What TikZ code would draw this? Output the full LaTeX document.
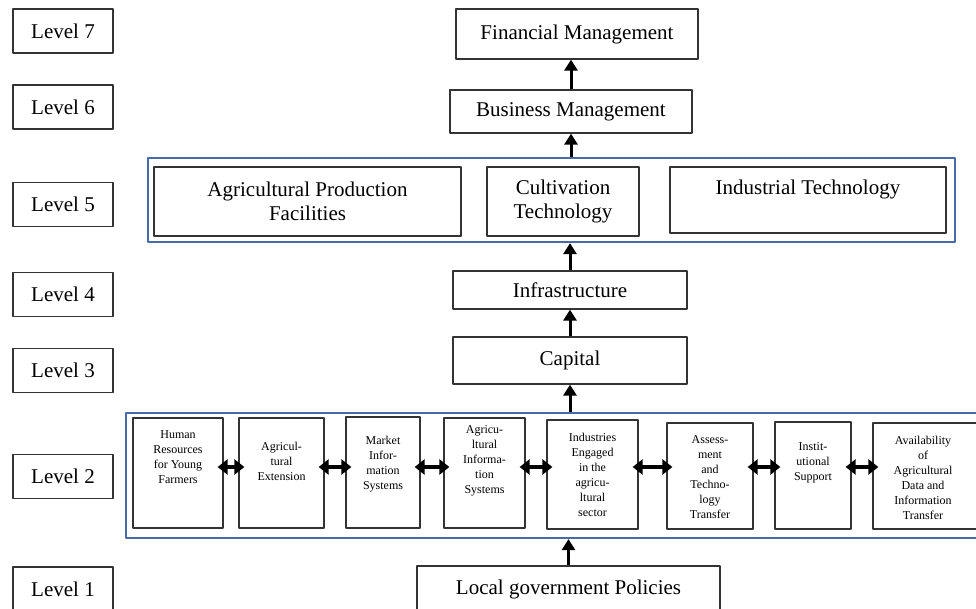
\documentclass[tikz,border=0pt]{standalone}
\usepackage{fontspec}
\setmainfont{Liberation Serif}
\usetikzlibrary{arrows.meta}
\definecolor{frameblue}{RGB}{72,106,168}
\begin{document}
\begin{tikzpicture}[x=1pt, y=-1pt, line join=round,
	levelbox/.style={draw=black!80, line width=1.2pt, minimum width=100pt, minimum height=44pt, inner sep=0pt, font=\fontsize{21}{24}\selectfont},
	stepbox/.style={draw=black!80, line width=1.2pt, inner sep=0pt, align=center, font=\fontsize{21}{24}\selectfont},
	groupframe/.style={draw=frameblue, line width=2.2pt, inner sep=0pt},
	factorbox/.style={draw=black!80, line width=1.2pt, inner sep=0pt},
	factortext/.style={align=center, inner sep=0pt, font=\fontsize{12}{15}\selectfont},
	uparrow/.style={-{Triangle[length=11pt,width=13pt]}, line width=3pt},
	twoway/.style={{Triangle[length=10pt,width=15pt]}-{Triangle[length=10pt,width=15pt]}, line width=4pt, shorten <=-6pt, shorten >=-6pt}]
	\clip (0,0) rectangle (976,609);
	% levels
	\foreach \n/\y in {7/31,6/107,5/204.5,4/294.5,3/370.5,2/476.5,1/589}
		\node[levelbox] (lev\n) at (63,\y) {Level \n};
	% top of the ladder
	\node[stepbox, minimum width=242pt, minimum height=50pt] (fin) at (577,34) {Financial Management};
	\node[stepbox, minimum width=242pt, minimum height=43pt] (bus) at (571,111.5) {Business Management};
	% level 5
	\node[groupframe, minimum width=807pt, minimum height=84pt] (lfive) at (551.5,200) {};
	\node[stepbox, minimum width=307pt, minimum height=69pt] (apf) at (307.5,201.5) {Agricultural Production\\Facilities};
	\node[stepbox, minimum width=152pt, minimum height=69pt] (cult) at (563,201.5) {Cultivation\\Technology};
	\node[stepbox, minimum width=276pt, minimum height=66pt] (indt) at (808,200) {};
	\node[stepbox, draw=none] (indttext) at (808,189) {Industrial Technology};
	\node[stepbox, minimum width=234pt, minimum height=38pt] (infra) at (570,290) {Infrastructure};
	\node[stepbox, minimum width=234pt, minimum height=47pt] (cap) at (570,360.5) {Capital};
	% level 2
	\node[groupframe, minimum width=864pt, minimum height=125pt] (ltwo) at (558,475.5) {};
	\node[factorbox, minimum width=90pt, minimum height=110pt] (hum) at (178,473) {};
	\node[factortext] (humtext) at (178,457) {Human\\Resources\\for Young\\Farmers};
	\node[factorbox, minimum width=85pt, minimum height=110pt] (ext) at (281.5,473) {};
	\node[factortext] (exttext) at (281.5,461) {Agricul-\\tural\\Extension};
	\node[factorbox, minimum width=74pt, minimum height=111pt] (mis) at (383,472.5) {};
	\node[factortext] (mistext) at (383,464) {Market\\Infor-\\mation\\Systems};
	\node[factorbox, minimum width=81pt, minimum height=110pt] (ais) at (484.5,473) {};
	\node[factortext] (aistext) at (484.5,461) {Agricu-\\ltural\\Informa-\\tion\\Systems};
	\node[factorbox, minimum width=91pt, minimum height=109pt] (ind) at (592.5,474.5) {};
	\node[factortext] (indtext) at (592.5,475) {Industries\\Engaged\\in the\\agricu-\\ltural\\sector};
	\node[factorbox, minimum width=86pt, minimum height=106pt] (att) at (710,476) {};
	\node[factortext] (atttext) at (710,477) {Assess-\\ment\\and\\Techno-\\logy\\Transfer};
	\node[factorbox, minimum width=76pt, minimum height=107pt] (ins) at (813,475.5) {};
	\node[factortext] (instext) at (813,463) {Instit-\\utional\\Support};
	\node[factorbox, minimum width=107pt, minimum height=106pt] (adi) at (926.5,476) {};
	\node[factortext] (aditext) at (923,478) {Availability\\of\\Agricultural\\Data and\\Information\\Transfer};
	\node[stepbox, minimum width=303pt, minimum height=46pt] (pol) at (568.5,589) {Local government Policies};
	% arrows
	\draw[uparrow] (bus.north) -- (bus.north |- fin.south);
	\draw[uparrow] (bus.south |- lfive.north) -- (bus.south);
	\draw[uparrow] (infra.north) -- (infra.north |- lfive.south);
	\draw[uparrow] (cap.north) -- (infra.south);
	\draw[uparrow] (cap.south |- ltwo.north) -- (cap.south);
	\draw[uparrow] (pol.north) -- (pol.north |- ltwo.south);
	\coordinate (row) at (0,467);
	\foreach \a/\b in {hum/ext,ext/mis,mis/ais,ais/ind,ind/att,att/ins,ins/adi}
		\draw[twoway] (\a.east |- row) -- (\b.west |- row);
\end{tikzpicture}
\end{document}
